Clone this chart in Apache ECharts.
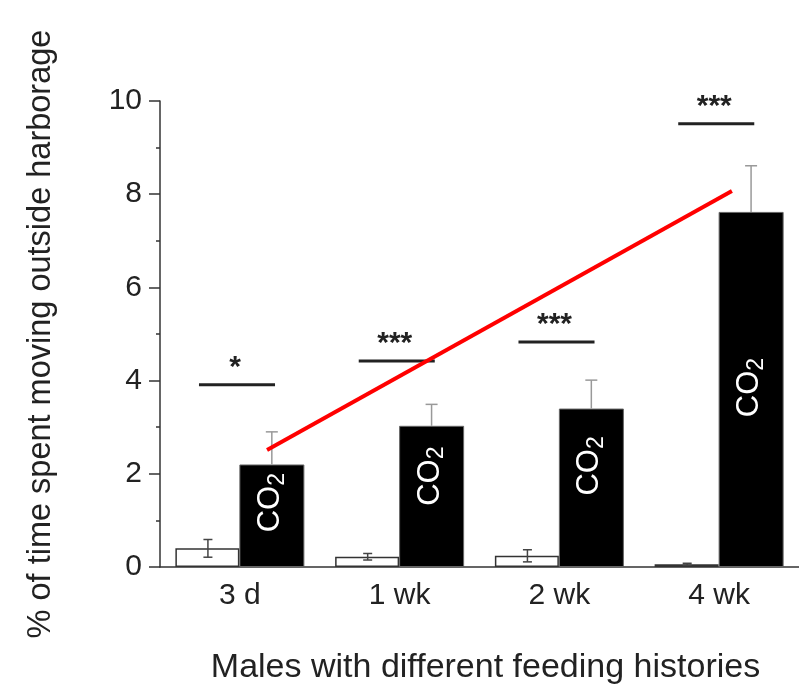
<!DOCTYPE html>
<html>
<head>
<meta charset="utf-8">
<script src="https://cdn.jsdelivr.net/npm/echarts@6/dist/echarts.min.js"></script>
<style>
  html, body { margin: 0; padding: 0; background: #fff; }
  #chart { width: 799px; height: 694px; }
</style>
</head>
<body>
<div id="chart"></div>
<script>
// feeding histories
var categories = ['3 d', '1 wk', '2 wk', '4 wk'];
// % of time moving, without / with CO2
var noCO2 = [0.40, 0.22, 0.24, 0.06];
var noCO2Err = [0.19, 0.07, 0.13, 0.02];
var withCO2 = [2.20, 3.03, 3.40, 7.62];
var withCO2Err = [0.70, 0.46, 0.61, 0.99];
// significance bars
var sigLevel = [3.91, 4.42, 4.83, 9.51];
var sigMarks = ['*', '***', '***', '***'];
// red trend line (category index, value)
var trendX = [0.17, 3.08];
var trendY = [2.51, 8.07];
// where the CO2 text sits inside the black bars
var co2LabelAt = [1.38, 1.95, 2.17, 3.85];
var yTicks = { min: 0, max: 10, step: 2 };

var font = 'Liberation Sans, Arial, sans-serif';
var myChart = echarts.init(document.getElementById('chart'));

// error bars: [index, value, err, side, full]
var errData = [];
categories.forEach(function (c, i) {
  errData.push([i, noCO2[i], noCO2Err[i], -1, 1]);
  errData.push([i, withCO2[i], withCO2Err[i], 1, 0]);
});

function renderErr(params, api) {
  var i = api.value(0), v = api.value(1), e = api.value(2);
  var side = api.value(3), full = api.value(4);
  var band = api.size([1, 0])[0];
  var c = api.coord([i, v]);
  var x = c[0] + side * band * 0.2;
  var top = api.coord([i, v + e])[1];
  var bot = full ? api.coord([i, v - e])[1] : c[1];
  var w = full ? 4.5 : 6;
  var col = full ? '#444' : '#999';
  var st = { stroke: col, lineWidth: 1.5 };
  var kids = [
    { type: 'line', shape: { x1: x, y1: top, x2: x, y2: bot }, style: st },
    { type: 'line', shape: { x1: x - w, y1: top, x2: x + w, y2: top }, style: st }
  ];
  if (full) {
    kids.push({ type: 'line', shape: { x1: x - w, y1: bot, x2: x + w, y2: bot }, style: st });
  }
  return { type: 'group', children: kids };
}

function renderSig(params, api) {
  var i = api.value(0), v = api.value(1);
  var band = api.size([1, 0])[0];
  var c = api.coord([i, v]);
  var x1 = c[0] - band * 0.256, x2 = c[0] + band * 0.22;
  return {
    type: 'group',
    children: [
      { type: 'line', shape: { x1: x1, y1: c[1], x2: x2, y2: c[1] }, style: { stroke: '#222', lineWidth: 3 } },
      { type: 'text', x: (x1 + x2) / 2 - 2, y: c[1] - 17,
        style: { text: sigMarks[i], fill: '#222', font: 'bold 30px ' + font, align: 'center', verticalAlign: 'middle' } }
    ]
  };
}

var option = {
  animation: false,
  grid: { left: 160, right: 0, top: 101, bottom: 127, containLabel: false },
  xAxis: [
    {
      type: 'category',
      data: categories,
      name: 'Males with different feeding histories',
      nameLocation: 'middle',
      nameGap: 84,
      nameTextStyle: { fontSize: 34, color: '#222', fontFamily: font, padding: [0, 0, 0, 12] },
      axisLine: { lineStyle: { color: '#333', width: 1.5 } },
      axisTick: { alignWithLabel: true, length: 10, lineStyle: { color: '#333', width: 1.5 } },
      axisLabel: { fontSize: 30, color: '#222', fontFamily: font, margin: 14 }
    },
    {
      type: 'category',
      data: categories,
      position: 'bottom',
      axisLine: { show: false },
      axisTick: { length: 6, lineStyle: { color: '#333', width: 1.5 } },
      axisLabel: { show: false }
    },
    {
      type: 'value',
      min: -0.5,
      max: 3.5,
      show: false
    }
  ],
  yAxis: {
    type: 'value',
    min: yTicks.min,
    max: yTicks.max,
    interval: yTicks.step,
    name: '% of time spent moving outside harborage',
    nameLocation: 'middle',
    nameGap: 102,
    nameTextStyle: { fontSize: 32.5, color: '#222', fontFamily: font },
    axisLine: { show: true, onZero: false, lineStyle: { color: '#333', width: 1.5 } },
    axisTick: { show: true, length: 11, lineStyle: { color: '#333', width: 1.5 } },
    minorTick: { show: true, splitNumber: 2, length: 4, lineStyle: { color: '#333', width: 1.5 } },
    splitLine: { show: false },
    axisLabel: { fontSize: 30, color: '#222', fontFamily: font, margin: 18 }
  },
  series: [
    {
      type: 'bar',
      data: noCO2,
      barWidth: 64,
      barGap: '0%',
      itemStyle: { color: '#fff', borderColor: '#333', borderWidth: 1.5 },
      z: 2
    },
    {
      type: 'bar',
      data: withCO2,
      barWidth: 65,
      itemStyle: { color: '#000', borderColor: '#666', borderWidth: 1 },
      z: 2
    },
    {
      type: 'custom',
      renderItem: renderErr,
      data: errData,
      encode: { x: 0, y: 1 },
      z: 3
    },
    {
      type: 'custom',
      renderItem: renderSig,
      data: sigLevel.map(function (v, i) { return [i, v]; }),
      encode: { x: 0, y: 1 },
      z: 3
    },
    {
      type: 'scatter',
      xAxisIndex: 2,
      symbolSize: 0,
      itemStyle: { opacity: 1 },
      data: co2LabelAt.map(function (v, i) { return [i + 0.2, v]; }),
      label: {
        show: true,
        position: 'inside',
        rotate: 90,
        opacity: 1,
        formatter: '{c|CO}{s|2}',
        rich: {
          c: { fontSize: 31, color: '#fff', fontFamily: font, lineHeight: 34, verticalAlign: 'top' },
          s: { fontSize: 23, color: '#fff', fontFamily: font, lineHeight: 34, verticalAlign: 'bottom', padding: [18, 0, 0, 0] }
        }
      },
      z: 4
    },
    {
      type: 'line',
      xAxisIndex: 2,
      data: trendX.map(function (x, i) { return [x, trendY[i]]; }),
      showSymbol: false,
      lineStyle: { color: '#ff0000', width: 4 },
      z: 5
    }
  ]
};
myChart.setOption(option);
</script>
</body>
</html>
